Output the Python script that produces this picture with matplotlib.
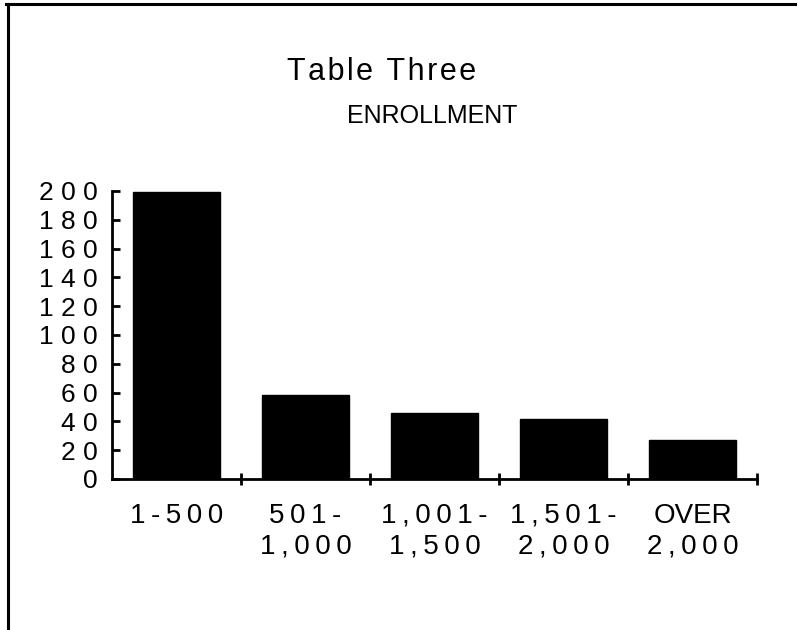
import matplotlib
matplotlib.use("Agg")
import matplotlib.pyplot as plt
from matplotlib.lines import Line2D

# Datos
categories = ["1-500", "501-\n1,000", "1,001-\n1,500", "1,501-\n2,000", "OVER\n2,000"]
enrollment = [199, 58, 46, 42, 27]
y_ticks = [0, 20, 40, 60, 80, 100, 120, 140, 160, 180, 200]

FONT = ["Liberation Sans", "DejaVu Sans"]


def spaced(text, sep="\u2009"):
    # imita el espaciado ancho de los números del original
    lines = []
    for line in text.split("\n"):
        if any(ch.isdigit() for ch in line):
            line = sep.join(line)
        lines.append(line)
    return "\n".join(lines)


fig = plt.figure(figsize=(7.97, 6.30), dpi=100)
ax = fig.add_axes([112 / 797, 151 / 630, 645 / 797, 288 / 630])

pos = list(range(len(categories)))
ax.bar(pos, enrollment, width=0.68, color="black", edgecolor="black")

ax.set_xlim(-0.5, len(categories) - 0.5)
ax.set_ylim(0, 200)

# ejes: solo izquierda y abajo
for side in ("top", "right"):
    ax.spines[side].set_visible(False)
for side in ("left", "bottom"):
    ax.spines[side].set_linewidth(2)

ax.set_yticks(y_ticks)
ax.set_yticklabels([spaced(str(v), " ") for v in y_ticks], family=FONT, fontsize=19)
ax.tick_params(axis="y", direction="in", length=6, width=2, pad=10)
ax.set_yticks([200], minor=True)
ax.tick_params(axis="y", which="minor", direction="inout", length=10, width=2)

ax.set_xticks(pos)
ax.set_xticklabels([spaced(c) for c in categories], family=FONT, fontsize=20,
                   linespacing=1.25)
ax.tick_params(axis="x", length=0, pad=17)
ax.set_xticks([p + 0.5 for p in pos], minor=True)
ax.tick_params(axis="x", which="minor", direction="inout", length=8, width=2)

# títulos
fig.text(382 / 797, 1 - 72 / 630, "\u200a".join("Table Three"), family=FONT, fontsize=22,
         ha="center", va="center")
fig.text(432 / 797, 1 - 116 / 630, "ENROLLMENT", family=FONT, fontsize=18,
         ha="center", va="center")

# marco (arriba e izquierda)
fig.add_artist(Line2D([6 / 797, 1], [1 - 4 / 630, 1 - 4 / 630], transform=fig.transFigure,
                      color="black", lw=2.2))
fig.add_artist(Line2D([8 / 797, 8 / 797], [0, 1 - 4 / 630], transform=fig.transFigure,
                      color="black", lw=2.2))

fig.savefig("out.png", dpi=100)
